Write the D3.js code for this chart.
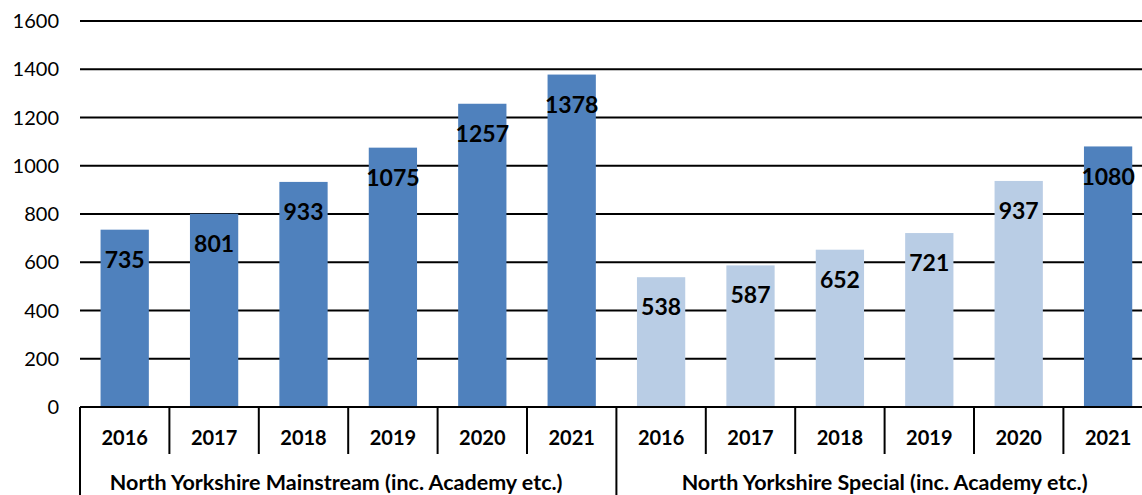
<!DOCTYPE html>
<html>
<head>
<meta charset="utf-8">
<script src="https://cdn.jsdelivr.net/npm/d3@7"></script>
<style>
  body { margin: 0; background: #fff; }
  text { font-family: Lato, "Open Sans", sans-serif; fill: #000; }
</style>
</head>
<body>
<div id="chart-area"></div>
<script>
// data
var groups = ["North Yorkshire Mainstream (inc. Academy etc.)", "North Yorkshire Special (inc. Academy etc.)"];
var years = ["2016", "2017", "2018", "2019", "2020", "2021"];
var mainstream = [735, 801, 933, 1075, 1257, 1378];
var special = [538, 587, 652, 721, 937, 1080];
var yTicks = [0, 200, 400, 600, 800, 1000, 1200, 1400, 1600];

var dark = "#4F81BD", light = "#B9CDE5";

var data = [];
years.forEach(function(y, i) { data.push({group: 0, year: y, value: mainstream[i], color: dark}); });
years.forEach(function(y, i) { data.push({group: 1, year: y, value: special[i], color: i == 5 ? dark : light}); });
data.forEach(function(d, i) { d.key = i; });

var width = 1142, height = 495;
var left = 80, step = 89.4;

var svg = d3.select("#chart-area").append("svg")
    .attr("width", width)
    .attr("height", height);

var x = d3.scaleBand()
    .domain(data.map(d => d.key))
    .range([left, left + step * data.length])
    .paddingInner(0.46)
    .paddingOuter(0.23);

var y = d3.scaleLinear()
    .domain([0, 1600])
    .range([407, 21]);

// gridlines
svg.append("g").selectAll("line")
    .data(yTicks)
  .enter().append("line")
    .attr("x1", left).attr("x2", width)
    .attr("y1", d => y(d)).attr("y2", d => y(d))
    .attr("stroke", "#000")
    .attr("stroke-width", 2);

// y labels
svg.append("g").selectAll("text")
    .data(yTicks)
  .enter().append("text")
    .attr("x", 59)
    .attr("y", d => y(d))
    .attr("dy", "0.35em")
    .attr("text-anchor", "end")
    .style("font-size", "20px")
    .text(d => d);

// bars
svg.append("g").selectAll("rect")
    .data(data)
  .enter().append("rect")
    .attr("x", d => x(d.key))
    .attr("y", d => y(d.value))
    .attr("width", x.bandwidth())
    .attr("height", d => y(0) - y(d.value))
    .attr("fill", d => d.color);

// value labels
svg.append("g").selectAll("text")
    .data(data)
  .enter().append("text")
    .attr("x", d => x(d.key) + x.bandwidth() / 2)
    .attr("y", d => y(d.value) + 30)
    .attr("dy", "0.35em")
    .attr("text-anchor", "middle")
    .style("font-size", "23px")
    .style("font-weight", "bold")
    .text(d => d.value);

// x axis: separators and labels
var axis = svg.append("g");
var stepW = x.step();
var base = y(0);

axis.append("line")
    .attr("x1", left).attr("x2", width)
    .attr("y1", base).attr("y2", base)
    .attr("stroke", "#000").attr("stroke-width", 2);

data.forEach(function(d, i) {
  var x0 = left + i * stepW;
  var isGroupEdge = i % years.length == 0;
  axis.append("line")
      .attr("x1", x0).attr("x2", x0)
      .attr("y1", base).attr("y2", isGroupEdge ? height : 454)
      .attr("stroke", "#000").attr("stroke-width", 2);
  axis.append("text")
      .attr("x", x0 + stepW / 2)
      .attr("y", 438)
      .attr("dy", "0.35em")
      .attr("text-anchor", "middle")
      .style("font-size", "20px")
      .style("font-weight", "bold")
      .text(d.year);
});

groups.forEach(function(g, gi) {
  var x0 = left + gi * years.length * stepW;
  axis.append("text")
      .attr("x", x0 + years.length * stepW / 2 - (gi == 0 ? 12 : 0))
      .attr("y", 482)
      .attr("dy", "0.35em")
      .attr("text-anchor", "middle")
      .style("font-size", "21.5px")
      .style("font-weight", "bold")
      .text(g);
});
</script>
</body>
</html>
